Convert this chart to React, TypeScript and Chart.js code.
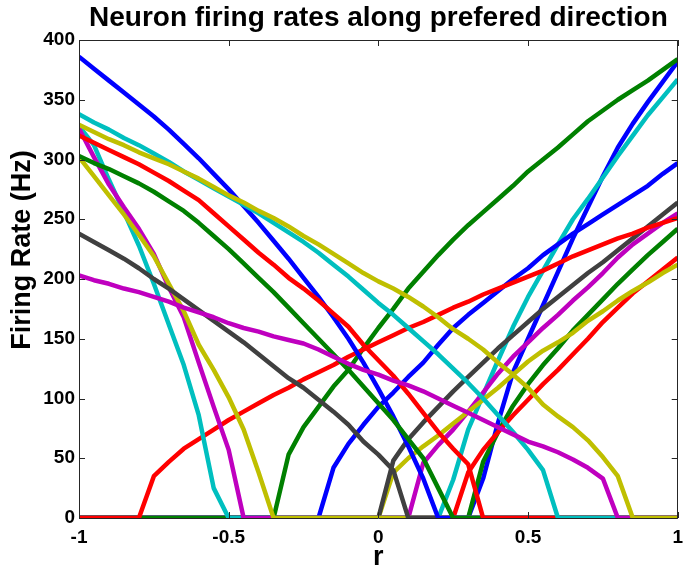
import React, { useEffect, useRef } from "react";
import { Chart, registerables } from "chart.js";

Chart.register(...registerables);

const rValues = [
  -1, -0.95, -0.9, -0.85, -0.8, -0.75, -0.7, -0.65, -0.6, -0.55,
  -0.5, -0.45, -0.4, -0.35, -0.3, -0.25, -0.2, -0.15, -0.1, -0.05,
  0, 0.05, 0.1, 0.15, 0.2, 0.25, 0.3, 0.35, 0.4, 0.45,
  0.5, 0.55, 0.6, 0.65, 0.7, 0.75, 0.8, 0.85, 0.9, 0.95, 1,
];

const xTicks = [-1, -0.5, 0, 0.5, 1];
const yTicks = [0, 50, 100, 150, 200, 250, 300, 350, 400];

const titleText = "Neuron firing rates along prefered direction";
const xLabel = "r";
const yLabel = "Firing Rate (Hz)";

// neurons in plotting order (MATLAB colour order b g r c m y k)
const neuron01 = [
  0, 0, 0, 0, 0, 0, 0, 0, 0, 0,
  0, 0, 0, 0, 0, 0, 0, 0, 0, 0,
  0, 0, 0, 0, 0, 0, 0, 33, 80, 122,
  150, 178, 206, 234, 260, 286, 310, 330, 348, 365, 382,
];
const neuron02 = [
  0, 0, 0, 0, 0, 0, 0, 0, 0, 0,
  0, 0, 0, 0, 0, 0, 0, 0, 0, 0,
  0, 0, 0, 0, 0, 0, 0, 47, 72, 94,
  112, 128, 142, 157, 170, 183, 196, 208, 220, 231, 242,
];
const neuron03 = [
  0, 0, 0, 0, 0, 0, 0, 0, 0, 0,
  0, 0, 0, 0, 0, 0, 0, 0, 0, 0,
  0, 0, 0, 0, 0, 0, 38, 57, 72, 86,
  99, 112, 124, 137, 150, 164, 176, 188, 198, 208, 218,
];
const neuron04 = [
  0, 0, 0, 0, 0, 0, 0, 0, 0, 0,
  0, 0, 0, 0, 0, 0, 0, 0, 0, 0,
  0, 0, 0, 0, 0, 32, 74, 103, 132, 160,
  185, 207, 229, 250, 267, 285, 303, 320, 337, 352, 367,
];
const neuron05 = [
  0, 0, 0, 0, 0, 0, 0, 0, 0, 0,
  0, 0, 0, 0, 0, 0, 0, 0, 0, 0,
  0, 0, 0, 46, 61, 74, 89, 105, 121, 135,
  147, 159, 170, 182, 193, 205, 218, 229, 238, 247, 255,
];
const neuron06 = [
  0, 0, 0, 0, 0, 0, 0, 0, 0, 0,
  0, 0, 0, 0, 0, 0, 0, 0, 0, 0,
  0, 38, 50, 60, 69, 79, 89, 99, 109, 120,
  131, 140, 147, 155, 165, 173, 182, 190, 197, 205, 212,
];
const neuron07 = [
  0, 0, 0, 0, 0, 0, 0, 0, 0, 0,
  0, 0, 0, 0, 0, 0, 0, 0, 0, 0,
  0, 48, 66, 80, 93, 106, 118, 130, 142, 153,
  164, 175, 185, 195, 205, 214, 224, 234, 244, 254, 264,
];
const neuron08 = [
  0, 0, 0, 0, 0, 0, 0, 0, 0, 0,
  0, 0, 0, 0, 0, 0, 0, 42, 62, 78,
  93, 105, 118, 130, 145, 159, 170, 180, 190, 200,
  209, 220, 229, 238, 246, 254, 262, 270, 278, 288, 297,
];
const neuron09 = [
  0, 0, 0, 0, 0, 0, 0, 0, 0, 0,
  0, 0, 0, 0, 53, 76, 93, 110, 124, 142,
  159, 175, 192, 206, 220, 233, 245, 256, 267, 278,
  290, 300, 310, 321, 332, 341, 350, 358, 366, 375, 384,
];
const neuron10 = [
  0, 0, 0, 0, 0, 35, 47, 58, 66, 74,
  82, 89, 96, 103, 109, 116, 122, 128, 135, 141,
  147, 153, 159, 164, 170, 176, 181, 187, 192, 197,
  202, 207, 213, 219, 224, 229, 234, 238, 243, 247, 251,
];
const neuron11 = [
  328, 312, 283, 256, 228, 196, 162, 128, 86, 25,
  0, 0, 0, 0, 0, 0, 0, 0, 0, 0,
  0, 0, 0, 0, 0, 0, 0, 0, 0, 0,
  0, 0, 0, 0, 0, 0, 0, 0, 0, 0, 0,
];
const neuron12 = [
  326, 302, 279, 260, 242, 221, 193, 168, 130, 93,
  57, 0, 0, 0, 0, 0, 0, 0, 0, 0,
  0, 0, 0, 0, 0, 0, 0, 0, 0, 0,
  0, 0, 0, 0, 0, 0, 0, 0, 0, 0, 0,
];
const neuron13 = [
  302, 286, 270, 254, 237, 219, 196, 173, 145, 124,
  101, 74, 38, 0, 0, 0, 0, 0, 0, 0,
  0, 0, 0, 0, 0, 0, 0, 0, 0, 0,
  0, 0, 0, 0, 0, 0, 0, 0, 0, 0, 0,
];
const neuron14 = [
  238, 231, 224, 217, 209, 200, 192, 183, 174, 165,
  156, 147, 137, 127, 117, 109, 99, 89, 78, 64,
  53, 40, 0, 0, 0, 0, 0, 0, 0, 0,
  0, 0, 0, 0, 0, 0, 0, 0, 0, 0, 0,
];
const neuron15 = [
  386, 376, 366, 356, 346, 336, 325, 313, 301, 288,
  275, 261, 247, 232, 217, 201, 185, 168, 150, 130,
  108, 85, 60, 33, 0, 0, 0, 0, 0, 0,
  0, 0, 0, 0, 0, 0, 0, 0, 0, 0, 0,
];
const neuron16 = [
  303, 297, 292, 286, 280, 273, 265, 257, 247, 236,
  225, 213, 201, 189, 176, 163, 150, 137, 124, 110,
  96, 82, 66, 50, 25, 0, 0, 0, 0, 0,
  0, 0, 0, 0, 0, 0, 0, 0, 0, 0, 0,
];
const neuron17 = [
  320, 314, 308, 302, 296, 289, 282, 274, 266, 255,
  244, 233, 222, 212, 201, 192, 182, 171, 160, 145,
  132, 119, 104, 88, 72, 58, 45, 0, 0, 0,
  0, 0, 0, 0, 0, 0, 0, 0, 0, 0, 0,
];
const neuron18 = [
  338, 331, 325, 318, 312, 305, 298, 290, 283, 276,
  269, 262, 255, 247, 239, 231, 222, 212, 202, 191,
  180, 170, 159, 148, 137, 125, 113, 100, 86, 72,
  57, 40, 0, 0, 0, 0, 0, 0, 0, 0, 0,
];
const neuron19 = [
  203, 199, 196, 192, 189, 185, 181, 176, 172, 168,
  163, 159, 156, 152, 149, 146, 141, 135, 129, 124,
  120, 115, 111, 106, 100, 94, 88, 82, 76, 70,
  64, 60, 55, 49, 42, 33, 0, 0, 0, 0, 0,
];
const neuron20 = [
  329, 323, 317, 312, 306, 301, 296, 290, 284, 277,
  270, 264, 257, 251, 244, 236, 229, 221, 213, 205,
  198, 192, 185, 177, 168, 158, 150, 141, 130, 120,
  109, 95, 85, 76, 65, 51, 35, 0, 0, 0, 0,
];

const neurons = [
  neuron01, neuron02, neuron03, neuron04, neuron05,
  neuron06, neuron07, neuron08, neuron09, neuron10,
  neuron11, neuron12, neuron13, neuron14, neuron15,
  neuron16, neuron17, neuron18, neuron19, neuron20,
];

const colorOrder = ["#0000FF", "#008000", "#FF0000", "#00BFBF", "#BF00BF", "#BFBF00", "#404040"];

const FONT = "'Liberation Sans', Arial, Helvetica, sans-serif";

const framePlugin = {
  id: "matlabFrame",
  afterDatasetsDraw(chart: any) {
    const { ctx, chartArea } = chart;
    const { left, right, top, bottom } = chartArea;
    const xs = chart.scales.x;
    const ys = chart.scales.y;
    const tl = 6;
    ctx.save();
    ctx.strokeStyle = "#262626";
    ctx.lineWidth = 1;
    ctx.beginPath();
    ctx.rect(Math.round(left) + 0.5, Math.round(top) + 0.5, Math.round(right - left) - 1, Math.round(bottom - top));
    for (const v of xTicks) {
      const px = Math.round(xs.getPixelForValue(v)) + 0.5;
      ctx.moveTo(px, bottom);
      ctx.lineTo(px, bottom - tl);
      ctx.moveTo(px, top);
      ctx.lineTo(px, top + tl);
    }
    for (const v of yTicks) {
      const py = Math.round(ys.getPixelForValue(v)) + 0.5;
      ctx.moveTo(left, py);
      ctx.lineTo(left + tl, py);
      ctx.moveTo(right, py);
      ctx.lineTo(right - tl, py);
    }
    ctx.stroke();
    ctx.restore();
  },
  afterDraw(chart: any) {
    const { ctx } = chart;
    ctx.save();
    ctx.translate(23, 250);
    ctx.rotate(-Math.PI / 2);
    ctx.fillStyle = "#000";
    ctx.font = "bold 27px " + FONT;
    ctx.textAlign = "center";
    ctx.textBaseline = "middle";
    ctx.fillText(yLabel, 0, 0);
    ctx.restore();
  },
};

export default function App() {
  const canvasRef = useRef<HTMLCanvasElement | null>(null);

  useEffect(() => {
    document.body.style.margin = "0";
    const canvas = canvasRef.current;
    if (!canvas) return;

    const datasets = neurons.map((series, i) => ({
      label: "neuron " + (i + 1),
      data: rValues.map((r, k) => ({ x: r, y: series[k] })),
      borderColor: colorOrder[i % colorOrder.length],
      backgroundColor: colorOrder[i % colorOrder.length],
      borderWidth: 4.5,
      pointRadius: 0,
      tension: 0,
      fill: false,
      borderJoinStyle: "round" as const,
    }));
    // Chart.js draws the first dataset on top; MATLAB draws the last on top
    datasets.reverse();

    const chart = new Chart(canvas, {
      type: "line",
      data: { datasets },
      plugins: [framePlugin],
      options: {
        animation: false,
        responsive: false,
        events: [],
        layout: { padding: { left: 0, right: 6, top: 0, bottom: 0 } },
        plugins: {
          legend: { display: false },
          tooltip: { enabled: false },
          title: {
            display: true,
            fullSize: false,
            text: titleText,
            color: "#000",
            font: { family: FONT, size: 28, weight: "bold", lineHeight: 1 },
            padding: { top: 4, bottom: 8 },
          },
        },
        scales: {
          x: {
            type: "linear",
            min: -1,
            max: 1,
            afterFit: (s: any) => { s.height = 56; },
            afterBuildTicks: (s: any) => { s.ticks = xTicks.map((v) => ({ value: v })); },
            grid: { display: false, drawTicks: false },
            border: { display: false },
            ticks: {
              color: "#000",
              padding: 8,
              font: { family: FONT, size: 19, weight: "bold" },
              maxRotation: 0,
              callback: (v: any) => String(v),
            },
            title: {
              display: true,
              text: xLabel,
              color: "#000",
              font: { family: FONT, size: 27, weight: "bold", lineHeight: 1 },
              padding: { top: 0, bottom: 3 },
            },
          },
          y: {
            type: "linear",
            min: 0,
            max: 400,
            afterFit: (s: any) => { s.width = 79; },
            afterBuildTicks: (s: any) => { s.ticks = yTicks.map((v) => ({ value: v })); },
            grid: { display: false, drawTicks: false },
            border: { display: false },
            ticks: {
              color: "#000",
              padding: 4,
              font: { family: FONT, size: 19, weight: "bold" },
              callback: (v: any) => String(v),
            },
          },
        },
      },
    });

    return () => chart.destroy();
  }, []);

  return (
    <div style={{ width: 691, height: 574 }}>
      <canvas ref={canvasRef} width={691} height={574} style={{ display: "block" }} />
    </div>
  );
}
